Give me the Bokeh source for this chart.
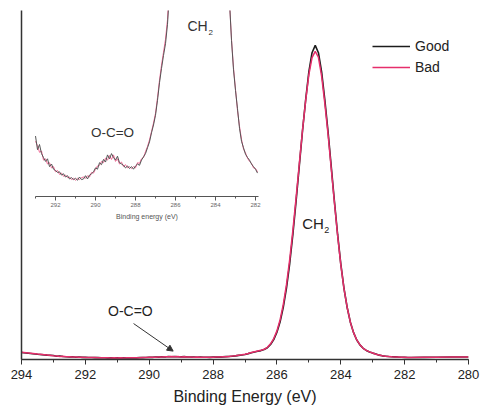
import numpy as np
from bokeh.plotting import figure
from bokeh.models import (Range1d, SingleIntervalTicker, FixedTicker, Legend, LegendItem,
                          Arrow, NormalHead)
from bokeh.core.properties import value
from bokeh.embed import file_html
from bokeh.resources import INLINE

# ---------------- data ----------------
binding_energy = [
    294.0, 293.5, 293.2,
    293.0, 292.9, 292.8, 292.7, 292.6, 292.5, 292.4, 292.3, 292.2, 292.1,
    292.0, 291.9, 291.8, 291.7, 291.6, 291.5, 291.4, 291.3, 291.2, 291.1,
    291.0, 290.9, 290.8, 290.7, 290.6, 290.5, 290.4, 290.3, 290.2, 290.1,
    290.0, 289.9, 289.8, 289.7, 289.6, 289.5, 289.4, 289.3, 289.2, 289.1,
    289.0, 288.9, 288.8, 288.7, 288.6, 288.5, 288.4, 288.3, 288.2, 288.1,
    288.0, 287.9, 287.8, 287.7, 287.6, 287.5, 287.4, 287.3, 287.2, 287.1,
    287.0, 286.9, 286.8, 286.7, 286.6, 286.5, 286.4, 286.3, 286.2,
    286.1, 286.0, 285.9, 285.8, 285.7, 285.6, 285.5, 285.4, 285.3, 285.2,
    285.1, 285.0, 284.9, 284.8, 284.7, 284.6, 284.5, 284.4, 284.3, 284.2,
    284.1, 284.0, 283.9, 283.8, 283.7, 283.6, 283.5, 283.4, 283.3,
    283.2, 283.1, 283.0, 282.9, 282.8, 282.7, 282.6, 282.5, 282.4, 282.3,
    282.2, 282.1, 282.0, 281.9, 281.8,
    281.4, 281.0, 280.5, 280.0,
]
good = [
    2.00, 1.50, 1.25,
    1.13, 0.92, 1.00, 0.86, 0.80, 0.74, 0.78, 0.66, 0.70, 0.62,
    0.60, 0.57, 0.58, 0.53, 0.55, 0.50, 0.52, 0.47, 0.49, 0.46,
    0.48, 0.45, 0.50, 0.46, 0.47, 0.52, 0.47, 0.53, 0.55, 0.58,
    0.64, 0.62, 0.72, 0.69, 0.77, 0.73, 0.84, 0.78, 0.86, 0.80,
    0.76, 0.82, 0.72, 0.70, 0.68, 0.64, 0.67, 0.63, 0.66, 0.62,
    0.67, 0.70, 0.68, 0.76, 0.81, 0.86, 0.95, 1.04, 1.18, 1.30,
    1.45, 1.68, 1.95, 2.17, 2.37, 2.55, 2.85, 3.35, 4.30,
    5.7, 7.8, 10.8, 15.0, 20.5, 27.5, 35.9, 45.4, 55.4, 65.4,
    74.4, 82.4, 87.9, 90.0, 87.9, 82.4, 74.4, 65.4, 55.4, 45.4,
    35.9, 27.4, 20.4, 14.9, 10.7, 7.7, 5.6, 4.2, 3.2,
    2.60, 2.15, 1.83, 1.55, 1.25, 1.05, 0.95, 0.85, 0.80, 0.76,
    0.70, 0.66, 0.62, 0.56, 0.58,
    0.62, 0.66, 0.70, 0.72,
]
bad = [
    2.05, 1.55, 1.30,
    1.05, 0.98, 0.88, 0.90, 0.76, 0.78, 0.70, 0.72, 0.64, 0.66,
    0.58, 0.60, 0.54, 0.56, 0.51, 0.53, 0.49, 0.50, 0.46, 0.48,
    0.45, 0.48, 0.46, 0.49, 0.50, 0.48, 0.52, 0.50, 0.57, 0.56,
    0.62, 0.67, 0.68, 0.74, 0.72, 0.79, 0.76, 0.83, 0.77, 0.84,
    0.74, 0.78, 0.70, 0.73, 0.66, 0.69, 0.64, 0.66, 0.63, 0.66,
    0.64, 0.72, 0.71, 0.78, 0.80, 0.89, 0.97, 1.07, 1.20, 1.33,
    1.48, 1.72, 1.99, 2.22, 2.42, 2.62, 2.92, 3.50, 4.50,
    6.0, 8.2, 11.4, 15.8, 21.5, 28.6, 37.0, 46.3, 56.0, 65.6,
    74.2, 81.6, 86.5, 88.3, 86.6, 81.2, 73.4, 64.6, 54.8, 45.0,
    35.6, 27.2, 20.3, 14.9, 10.7, 7.7, 5.6, 4.2, 3.2,
    2.62, 2.18, 1.85, 1.52, 1.28, 1.08, 0.93, 0.87, 0.79, 0.74,
    0.71, 0.64, 0.63, 0.58, 0.57,
    0.62, 0.66, 0.70, 0.72,
]
series_labels = ["Good", "Bad"]

inset_major_ticks = [292, 290, 288, 286, 284, 282]
inset_minor_ticks = [293, 291, 289, 287, 285, 283]
inset_tick_labels = ["292", "290", "288", "286", "284", "282"]
inset_limits = (293.0, 281.85)
inset_floor = 0.2

peak_position = 284.8
ocoo_position = 289.25

# ---------------- layout ----------------
W, H = 480, 410
BL, BR, BT, BB = 21, 12, 10, 51
FRAME_W, FRAME_H = W - BL - BR, H - BT - BB
FONT = "Liberation Sans"
BLACK = "#1c1c1c"
RED = "#e62e6b"

p = figure(width=W, height=H,
           x_range=Range1d(294, 280), y_range=Range1d(0, 100),
           output_backend="svg", toolbar_location=None,
           min_border_left=BL, min_border_right=BR, min_border_top=BT, min_border_bottom=BB)
p.outline_line_color = None
p.xgrid.visible = False
p.ygrid.visible = False
p.background_fill_color = "white"

xa = p.xaxis[0]
xa.ticker = SingleIntervalTicker(interval=2, num_minor_ticks=2)
xa.axis_label = "Binding Energy (eV)"
xa.axis_label_text_font = FONT
xa.axis_label_text_font_size = "16px"
xa.axis_label_text_font_style = "normal"
xa.axis_label_text_color = "#222222"
xa.axis_label_standoff = 6
xa.major_label_text_font = FONT
xa.major_label_text_font_size = "13px"
xa.major_label_text_color = "#222222"
xa.major_label_standoff = 5
xa.major_tick_in = 0
xa.major_tick_out = 5
xa.minor_tick_in = 0
xa.minor_tick_out = 3
xa.axis_line_color = "#333333"
xa.major_tick_line_color = "#333333"
xa.minor_tick_line_color = "#333333"
xa.axis_line_width = 1.3

ya = p.yaxis[0]
ya.ticker = FixedTicker(ticks=[])
ya.major_tick_in = 0
ya.major_tick_out = 0
ya.minor_tick_in = 0
ya.minor_tick_out = 0
ya.axis_line_color = "#333333"
ya.axis_line_width = 1.5

# inset ranges: 293 eV sits 14 px from frame left, 20 px per eV;
# 0.2 sits 186 px below frame top and 3.0 sits 4 px below frame top
ix_per_px = 1.0 / 20.0
ix_start = 293.0 + 14 * ix_per_px
ix_end = ix_start - FRAME_W * ix_per_px
iy_per_px = (3.0 - inset_floor) / 182.0
iy_end = 3.0 + 4 * iy_per_px
iy_start = iy_end - FRAME_H * iy_per_px
p.extra_x_ranges = {"ix": Range1d(ix_start, ix_end)}
p.extra_y_ranges = {"iy": Range1d(iy_start, iy_end)}

x = np.array(binding_energy)
g = np.array(good)
b = np.array(bad)

# main curves
r_good = p.line(x, g, line_color=BLACK, line_width=1.6)
r_bad = p.line(x, b, line_color=RED, line_width=1.5)

# inset curves
mask = (x <= inset_limits[0]) & (x >= inset_limits[1])
p.line(x[mask], b[mask], line_color="#f06a96", line_width=1.0,
       x_range_name="ix", y_range_name="iy")
p.line(x[mask], g[mask], line_color="#555555", line_width=1.0,
       x_range_name="ix", y_range_name="iy")

# inset axis
p.segment(x0=[inset_limits[0]], y0=[inset_floor], x1=[inset_limits[1]], y1=[inset_floor],
          line_color="#555555", line_width=1, x_range_name="ix", y_range_name="iy")
p.ray(x=inset_major_ticks, y=[inset_floor] * len(inset_major_ticks), length=4,
      length_units="screen", angle=-90, angle_units="deg", line_color="#555555",
      line_width=1, x_range_name="ix", y_range_name="iy")
p.ray(x=inset_minor_ticks, y=[inset_floor] * len(inset_minor_ticks), length=2,
      length_units="screen", angle=-90, angle_units="deg", line_color="#555555",
      line_width=1, x_range_name="ix", y_range_name="iy")
p.text(x=inset_major_ticks, y=[inset_floor] * len(inset_major_ticks), text=inset_tick_labels,
       text_font=value(FONT), text_font_size="6px", text_color="#666666",
       text_align="center", text_baseline="top", y_offset=6,
       x_range_name="ix", y_range_name="iy")
p.text(x=[(inset_limits[0] + inset_limits[1]) / 2], y=[inset_floor], text=["Binding energy (eV)"],
       text_font=value(FONT), text_font_size="7px", text_color="#555555",
       text_align="center", text_baseline="top", y_offset=16,
       x_range_name="ix", y_range_name="iy")

# inset annotations
p.text(x=[peak_position], y=[2.82], text=["CH"], text_font=value(FONT), text_font_size="14px",
       text_color="#333333", text_align="left", text_baseline="middle", x_offset=-12,
       x_range_name="ix", y_range_name="iy")
p.text(x=[peak_position], y=[2.82], text=["2"], text_font=value(FONT), text_font_size="8px",
       text_color="#333333", text_align="left", text_baseline="middle", x_offset=9, y_offset=6,
       x_range_name="ix", y_range_name="iy")
p.text(x=[ocoo_position - 0.1], y=[1.18], text=["O-C=O"], text_font=value(FONT), text_font_size="13.5px",
       text_color="#333333", text_align="center", text_baseline="middle",
       x_range_name="ix", y_range_name="iy")

# main annotations
p.text(x=[peak_position], y=[39.0], text=["CH"], text_font=value(FONT), text_font_size="15px",
       text_color="#222222", text_align="left", text_baseline="middle", x_offset=-13)
p.text(x=[peak_position], y=[39.0], text=["2"], text_font=value(FONT), text_font_size="9px",
       text_color="#222222", text_align="left", text_baseline="middle", x_offset=9, y_offset=7)
p.text(x=[290.59], y=[14.0], text=["O-C=O"], text_font=value(FONT), text_font_size="14px",
       text_color="#222222", text_align="center", text_baseline="middle")
p.add_layout(Arrow(end=NormalHead(size=6, fill_color="#333333", line_color="#333333", line_width=1),
                   x_start=290.49, y_start=10.3, x_end=ocoo_position, y_end=2.4,
                   line_color="#333333", line_width=1))

legend = Legend(items=[LegendItem(label=series_labels[0], renderers=[r_good]),
                       LegendItem(label=series_labels[1], renderers=[r_bad])],
                location=(351, 283), orientation="vertical",
                padding=0, margin=0, spacing=3, glyph_height=18, glyph_width=38,
                label_height=18, label_standoff=5,
                label_text_font=FONT, label_text_font_size="14px", label_text_color="#222222",
                border_line_color=None, background_fill_alpha=0)
p.add_layout(legend)

open("out.html", "w").write(file_html(p, INLINE))
